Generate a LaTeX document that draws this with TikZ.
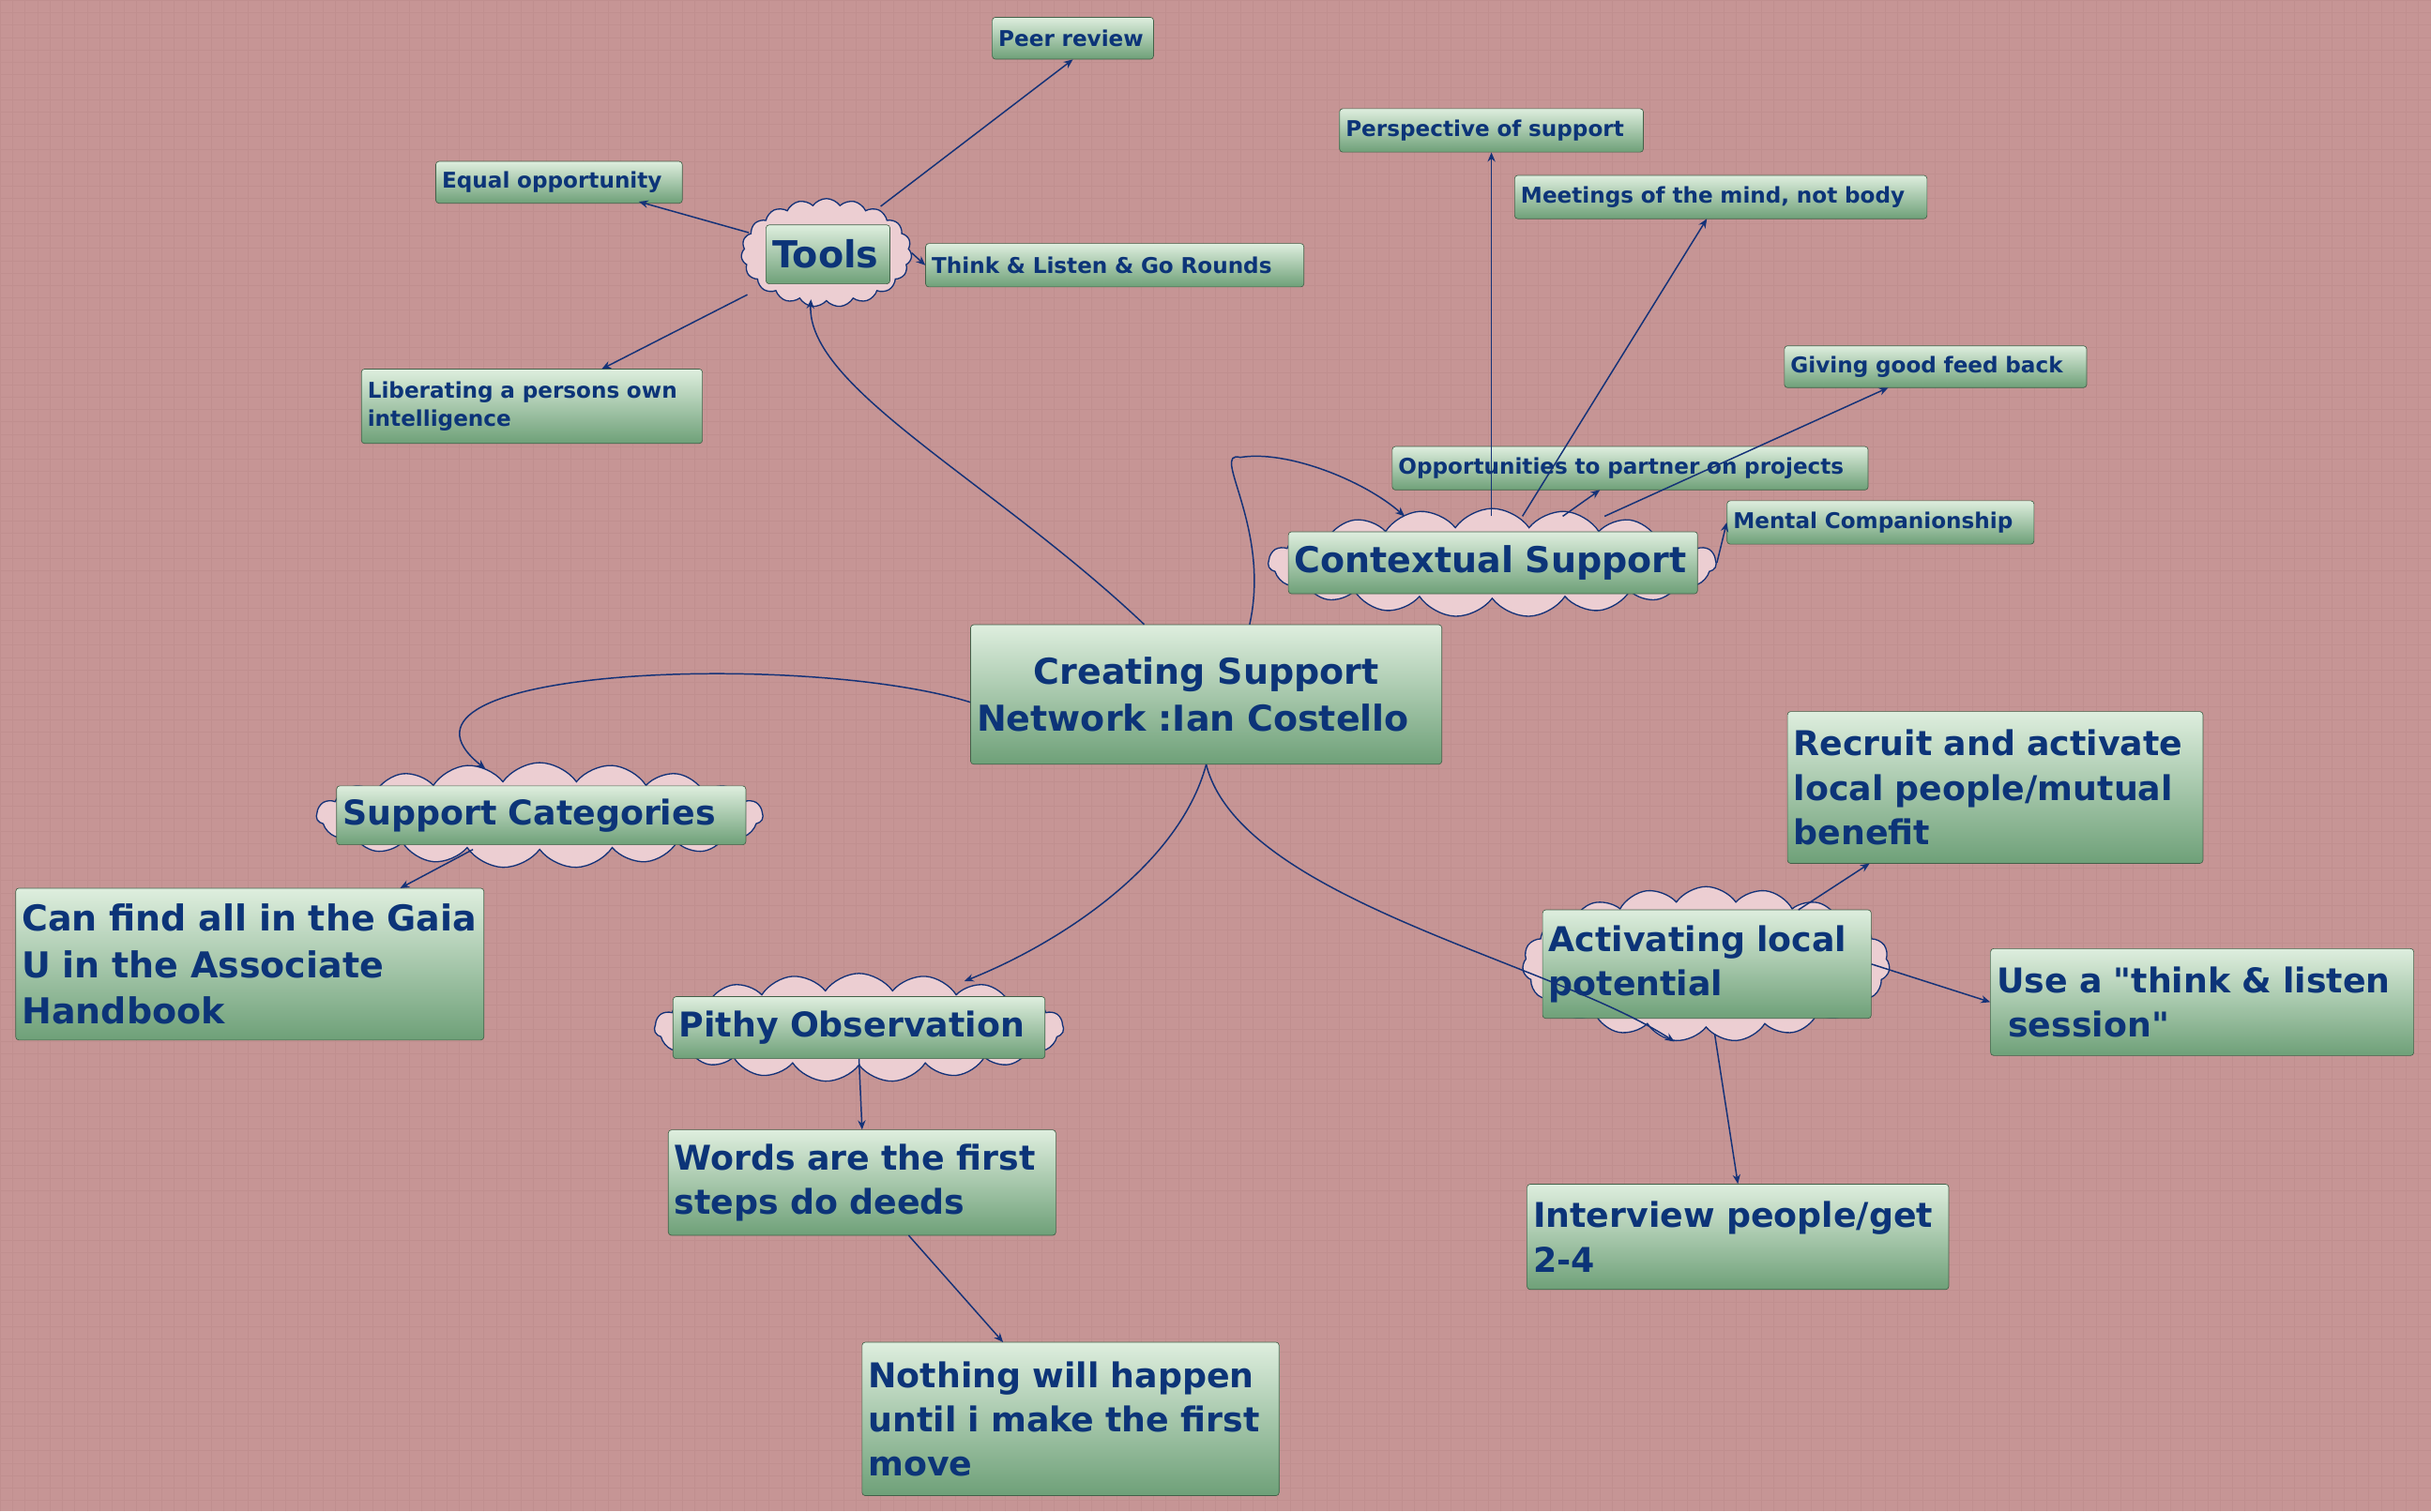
\documentclass[tikz,border=0pt]{standalone}
\usepackage{fontspec}
\setmainfont{DejaVu Sans}[Ligatures=TeXOff]
\usetikzlibrary{shapes.symbols,arrows.meta}
\definecolor{bg}{RGB}{198,149,149}
\definecolor{gridc}{RGB}{192,143,143}
\definecolor{txt}{RGB}{12,52,120}
\definecolor{ln}{RGB}{20,50,120}
\definecolor{gtop}{RGB}{222,238,222}
\definecolor{gbot}{RGB}{110,160,120}
\definecolor{cloudf}{RGB}{236,206,210}
\tikzset{
 box/.style={draw=gbot!60!black, rounded corners=2pt, top color=gtop, bottom color=gbot, text=txt, align=left, inner sep=2pt},
 cl/.style={cloud, cloud puffs=19, cloud puff arc=110, cloud ignores aspect, draw=ln, thick, fill=cloudf},
 con/.style={ln, line width=0.9pt, -{Stealth[length=6pt,width=5pt]}},
}
\newcommand{\bx}[7]{\node[box, minimum width={(#4-#2)*1pt}, minimum height={(#5-#3)*1pt}, text width={\dimexpr #4pt-#2pt-8pt\relax}, font=\bfseries\fontsize{#6pt}{1.3\dimexpr#6pt\relax}\selectfont] (#1) at ({(#2+#4)/2},{(#3+#5)/2}) {#7};}
\newcommand{\cld}[5]{\node[cl, minimum width={(#4-#2)*1pt}, minimum height={(#5-#3)*1pt}] (#1) at ({(#2+#4)/2},{(#3+#5)/2}) {};}
\newcommand{\ml}[1]{\mbox{#1}}
\begin{document}
\begin{tikzpicture}[x=1pt,y=-1pt]
\fill[bg] (0,0) rectangle (1568,975);
\draw[gridc, line width=0.3pt, step=8pt] (0,0) grid (1568,975);
\useasboundingbox (0,0) rectangle (1568,975);
% clouds
\cld{toolsc}{478}{128}{588}{198}
\cld{ctxc}{818}{328}{1107}{398}
\cld{supc}{204}{492}{492}{560}
\cld{pithc}{422}{628}{686}{698}
\cld{actc}{982}{572}{1219}{672}
% boxes
\bx{central}{626}{403}{930}{493}{23}{\centering\fontsize{23pt}{38pt}\selectfont Creating Support\\Network :Ian Costello}
\bx{tools}{494}{145}{574}{183}{24}{Tools}
\bx{peer}{640}{11}{744}{38}{14}{Peer review}
\bx{equal}{281}{104}{440}{131}{14}{Equal opportunity}
\bx{think}{597}{157}{841}{185}{14}{Think \& Listen \& Go Rounds}
\bx{lib}{233}{238}{453}{286}{14}{Liberating a persons own\\intelligence}
\bx{ctx}{831}{343}{1095}{383}{23}{Contextual Support}
\bx{persp}{864}{70}{1060}{98}{14}{Perspective of support}
\bx{meet}{977}{113}{1243}{141}{14}{Meetings of the mind, not body}
\bx{give}{1151}{223}{1346}{250}{14}{Giving good feed back}
\bx{opp}{898}{288}{1205}{316}{14}{Opportunities to partner on projects}
\bx{mental}{1114}{323}{1312}{351}{14}{Mental Companionship}
\bx{sup}{217}{507}{481}{545}{22}{Support Categories}
\bx{gaia}{10}{573}{312}{671}{23}{\ml{Can find all in the Gaia}\\\ml{U in the Associate}\\\ml{Handbook}}
\bx{pith}{434}{643}{674}{683}{22}{Pithy Observation}
\bx{words}{431}{729}{681}{797}{22}{\ml{Words are the first}\\\ml{steps do deeds}}
\bx{nothing}{556}{866}{825}{965}{22}{\ml{Nothing will happen}\\\ml{until i make the first}\\\ml{move}}
\bx{act}{995}{587}{1207}{657}{22}{\ml{Activating local}\\\ml{potential}}
\bx{recruit}{1153}{459}{1421}{557}{22}{\ml{Recruit and activate}\\\ml{local people/mutual}\\\ml{benefit}}
\bx{use}{1284}{612}{1557}{681}{22}{\ml{Use a "think \& listen}\\\ml{ session"}}
\bx{interview}{985}{764}{1257}{832}{22}{\ml{Interview people/get}\\\ml{2-4}}
% connectors
\coordinate (actend) at (1080,672);
\draw[con] ([xshift=-40pt]central.north) .. controls (640,310) and (520,250) .. (523,193);
\draw[con] (568,133) -- (peer.south);
\draw[con] (483,150) -- (412,130);
\draw[con] (toolsc.east) -- (think.west);
\draw[con] (482,190) -- (388,238);
\draw[con] ([xshift=28pt]central.north) .. controls (820,340) and (780,290) .. (800,295) .. controls (830,290) and (880,310) .. (906,333);
\draw[con] (962,333) -- (persp.south);
\draw[con] (982,333) -- (1101,141);
\draw[con] (1008,333) -- (1032,316);
\draw[con] (1035,333) -- (1218,250);
\draw[con] (ctxc.east) -- (mental.west);
\draw[con] ([yshift=-5pt]central.west) .. controls (520,420) and (230,430) .. (313,496);
\draw[con] (305,548) -- (258,573);
\draw[con] (central.south) .. controls (760,560) and (680,610) .. (622,633);
\draw[con] (central.south) .. controls (800,580) and (1000,620) .. (actend);
\draw[con] (pith.south) -- (words.north);
\draw[con] (586,797) -- (647,866);
\draw[con] (1160,587) -- (1206,557);
\draw[con] (act.east) -- (use.west);
\draw[con] (1106,667) -- (interview.north);
\end{tikzpicture}
\end{document}
